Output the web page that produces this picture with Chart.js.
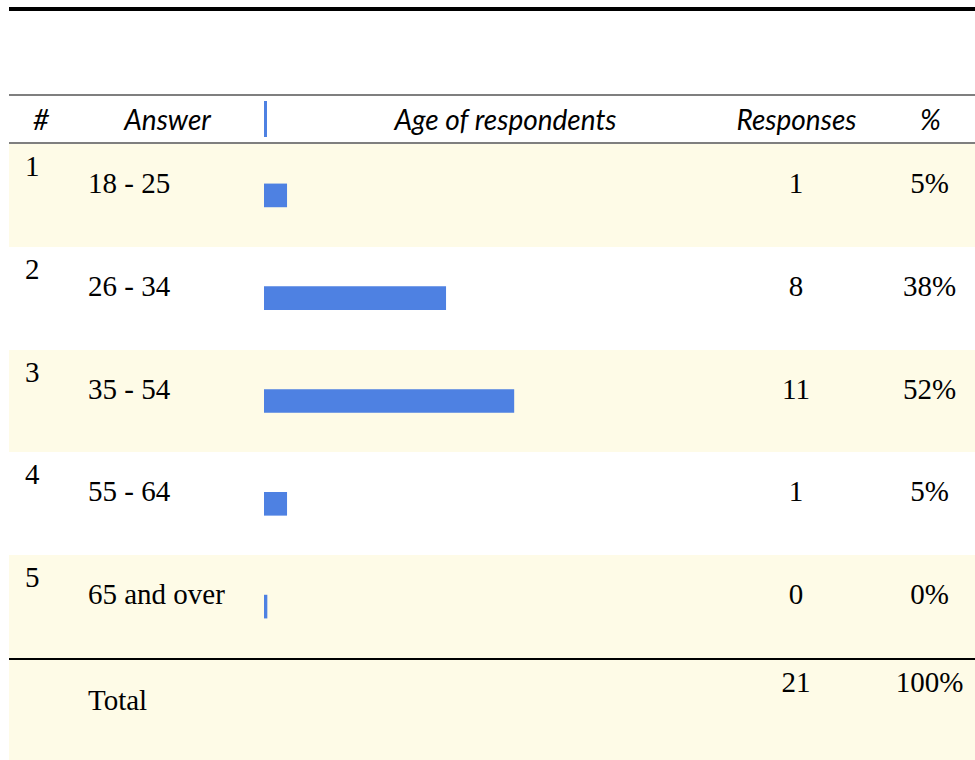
<!DOCTYPE html>
<html>
<head>
<meta charset="utf-8">
<script src="https://cdn.jsdelivr.net/npm/chart.js@4.4.0/dist/chart.umd.min.js"></script>
<style>
  html, body { margin: 0; padding: 0; background: #fff; }
  #wrap { position: relative; width: 975px; height: 760px; overflow: hidden; }
  .abs { position: absolute; }
  .hd { font-family: Lato, "Open Sans", sans-serif; font-style: italic; font-size: 28px; line-height: 28px; color: #000; text-align: center; white-space: nowrap; }
  .cell { font-family: "Liberation Serif", Tinos, "Times New Roman", "DejaVu Serif", serif; font-size: 29px; line-height: 29px; color: #000; white-space: nowrap; }
  #barChart { position: absolute; left: 264px; top: 144px; }
</style>
</head>
<body>
<div id="wrap">
  <canvas id="barChart" width="477" height="514"></canvas>
</div>
<script>
  // data
  var headers   = ['#', 'Answer', 'Age of respondents', 'Responses', '%']
  var answers   = ['18 - 25', '26 - 34', '35 - 54', '55 - 64', '65 and over']
  var responses = [1, 8, 11, 1, 0]
  var percents  = ['5%', '38%', '52%', '5%', '0%']
  var totalResponses = 21
  var totalPercent   = '100%'

  var wrap = document.getElementById('wrap')
  var canvas = document.getElementById('barChart')

  function box(cls, css, text) {
    var d = document.createElement('div')
    d.className = 'abs ' + (cls || '')
    d.style.cssText = css
    if (text !== undefined) d.textContent = text
    wrap.insertBefore(d, canvas)
    return d
  }

  //-------------
  //- TABLE     -
  //-------------
  var rowTop = 144, rowH = 102.8
  box('', 'left:9px;top:7px;width:966px;height:4px;background:#000')
  box('', 'left:9px;top:94px;width:966px;height:2px;background:#7f7f7f')
  box('', 'left:9px;top:142px;width:966px;height:2px;background:#7f7f7f')
  box('', 'left:264px;top:101px;width:3px;height:36px;background:#4e81e2')

  var headCenters = [41, 167.5, 505.5, 796.5, 930.5]
  headers.forEach(function (h, i) {
    box('hd', 'left:' + (headCenters[i] - 150) + 'px;top:104.5px;width:300px', h)
  })

  answers.forEach(function (a, i) {
    var top = rowTop + i * rowH
    if (i % 2 === 0) box('', 'left:9px;top:' + top + 'px;width:966px;height:' + rowH + 'px;background:#fefbe7')
    box('cell', 'left:25px;top:' + (top + 8) + 'px', String(i + 1))
    box('cell', 'left:88px;top:' + (top + 25) + 'px', a)
    box('cell', 'left:746px;top:' + (top + 25) + 'px;width:100px;text-align:center', String(responses[i]))
    box('cell', 'left:880px;top:' + (top + 25) + 'px;width:99px;text-align:center', percents[i])
  })

  // total row
  box('', 'left:9px;top:658px;width:966px;height:102px;background:#fefbe7')
  box('', 'left:9px;top:658px;width:966px;height:2px;background:#000')
  box('cell', 'left:88px;top:686px', 'Total')
  box('cell', 'left:746px;top:668px;width:100px;text-align:center', String(totalResponses))
  box('cell', 'left:880px;top:668px;width:99px;text-align:center', totalPercent)

  //-------------
  //- BAR CHART -
  //-------------
  var barChartData = {
    labels  : answers,
    datasets: [{
      label          : 'Age of respondents',
      backgroundColor: '#4e81e2',
      borderWidth    : 0,
      barThickness   : 23,
      minBarLength   : 3,
      data           : responses
    }]
  }

  var barChartOptions = {
    indexAxis          : 'y',
    responsive         : false,
    maintainAspectRatio: false,
    animation          : false,
    layout             : { padding: 0 },
    plugins            : { legend: { display: false }, tooltip: { enabled: false } },
    scales: {
      x: { display: false, min: 0, max: totalResponses },
      y: { display: false }
    }
  }

  var barChart = new Chart(canvas.getContext('2d'), {
    type: 'bar',
    data: barChartData,
    options: barChartOptions
  })
</script>
</body>
</html>
